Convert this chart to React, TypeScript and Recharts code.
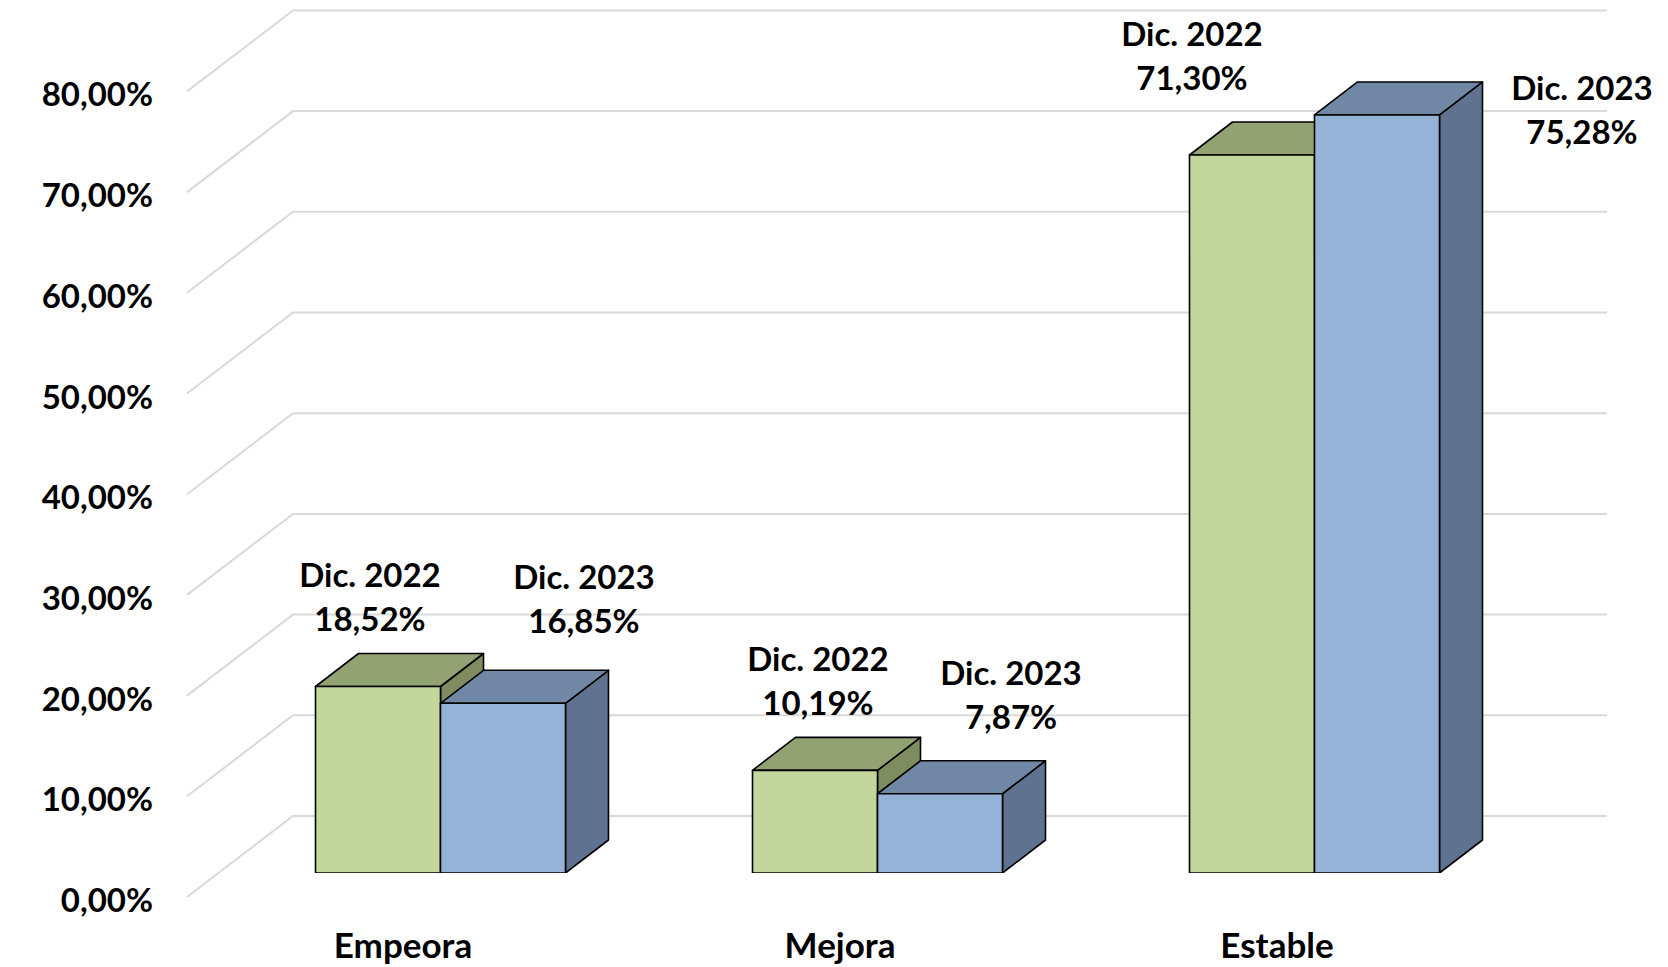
import { BarChart, Bar, XAxis, YAxis, CartesianGrid, LabelList } from "recharts";

const categories = ["Empeora", "Mejora", "Estable"];
const dic2022 = [18.52, 10.19, 71.3];
const dic2023 = [16.85, 7.87, 75.28];
const seriesNames = ["Dic. 2022", "Dic. 2023"];
const yTicks = [0, 10, 20, 30, 40, 50, 60, 70, 80];

const data = categories.map((name, i) => ({
  name,
  d2022: dic2022[i],
  d2023: dic2023[i],
}));

// label placement (relative to the bar's front-top centre), per category
const labelOffsets2022 = [
  { dx: -8, dy: -69 },
  { dx: 3, dy: -68 },
  { dx: -60, dy: -78 },
];
const labelOffsets2023 = [
  { dx: 81, dy: -83 },
  { dx: 71, dy: -78 },
  { dx: 205, dy: 16 },
];

const FONT = "Lato, 'Open Sans', sans-serif";
const DEPTH_X = 43;
const DEPTH_Y = 33;
const WALL_DX = 106;
const WALL_FRONT = 24;
const WALL_BACK = 57;
const WALL_LEFT = 187;
const WALL_RIGHT = 1607;

const fmt = (v: number) => v.toFixed(2).replace(".", ",") + "%";

function box(colors: { front: string; top: string; side: string }) {
  return (props: any) => {
    const { x, y, width, height } = props;
    const stroke = { stroke: "#000", strokeWidth: 1.6, strokeLinejoin: "round" as const };
    return (
      <g>
        <polygon
          points={`${x + width},${y} ${x + width + DEPTH_X},${y - DEPTH_Y} ${x + width + DEPTH_X},${y + height - DEPTH_Y} ${x + width},${y + height}`}
          fill={colors.side}
          {...stroke}
        />
        <polygon
          points={`${x},${y} ${x + DEPTH_X},${y - DEPTH_Y} ${x + width + DEPTH_X},${y - DEPTH_Y} ${x + width},${y}`}
          fill={colors.top}
          {...stroke}
        />
        <rect x={x} y={y} width={width} height={height} fill={colors.front} {...stroke} />
      </g>
    );
  };
}

function makeLabel(series: string, offsets: { dx: number; dy: number }[]) {
  return (props: any) => {
    const { x, y, width, value, index } = props;
    const o = offsets[index];
    const cx = x + width / 2 + o.dx;
    const by = y + o.dy;
    return (
      <text textAnchor="middle" fontFamily={FONT} fontWeight={700} fontSize={33} fill="#000">
        <tspan x={cx} y={by - 44} dominantBaseline="central">
          {series}
        </tspan>
        <tspan x={cx} y={by} dominantBaseline="central">
          {fmt(value)}
        </tspan>
      </text>
    );
  };
}

const gridLine = (props: any) => {
  const y = props.y1;
  return (
    <g key={props.key ?? `g-${props.index}`}>
      <polyline
        points={`${WALL_LEFT},${y + WALL_FRONT} ${WALL_LEFT + WALL_DX},${y - WALL_BACK} ${WALL_RIGHT},${y - WALL_BACK}`}
        fill="none"
        stroke="#d9d9d9"
        strokeWidth={2}
      />
    </g>
  );
};

const YTick = (props: any) => {
  const { y, payload } = props;
  return (
    <text
      x={153}
      y={y + WALL_FRONT + 2}
      textAnchor="end"
      dominantBaseline="central"
      fontFamily={FONT}
      fontWeight={700}
      fontSize={33}
      fill="#000"
    >
      {fmt(payload.value)}
    </text>
  );
};

const XTick = (props: any) => {
  const { x, payload } = props;
  return (
    <text
      x={x - 37}
      y={944}
      textAnchor="middle"
      dominantBaseline="central"
      fontFamily={FONT}
      fontWeight={700}
      fontSize={35}
      fill="#000"
    >
      {payload.value}
    </text>
  );
};

export default function App() {
  return (
    <div style={{ width: 1668, height: 967, background: "#fff" }}>
      <style>{"body{margin:0}"}</style>
      <BarChart
        width={1668}
        height={967}
        data={data}
        margin={{ top: 67.4, right: 135.5, bottom: 0, left: 0 }}
        barGap={0}
        barSize={125}
      >
        <CartesianGrid vertical={false} horizontal={gridLine} />
        <XAxis dataKey="name" axisLine={false} tickLine={false} height={94} tick={<XTick />} interval={0} />
        <YAxis
          domain={[0, 80]}
          ticks={yTicks}
          width={221.5}
          interval={0}
          axisLine={false}
          tickLine={false}
          tick={<YTick />}
          allowDataOverflow
        />
        <Bar
          dataKey="d2022"
          isAnimationActive={false}
          shape={box({ front: "#c3d69b", top: "#93a273", side: "#7e8c5f" })}
        >
          <LabelList dataKey="d2022" content={makeLabel(seriesNames[0], labelOffsets2022)} />
        </Bar>
        <Bar
          dataKey="d2023"
          isAnimationActive={false}
          shape={box({ front: "#95b3d7", top: "#7088a5", side: "#5f7390" })}
        >
          <LabelList dataKey="d2023" content={makeLabel(seriesNames[1], labelOffsets2023)} />
        </Bar>
      </BarChart>
    </div>
  );
}
